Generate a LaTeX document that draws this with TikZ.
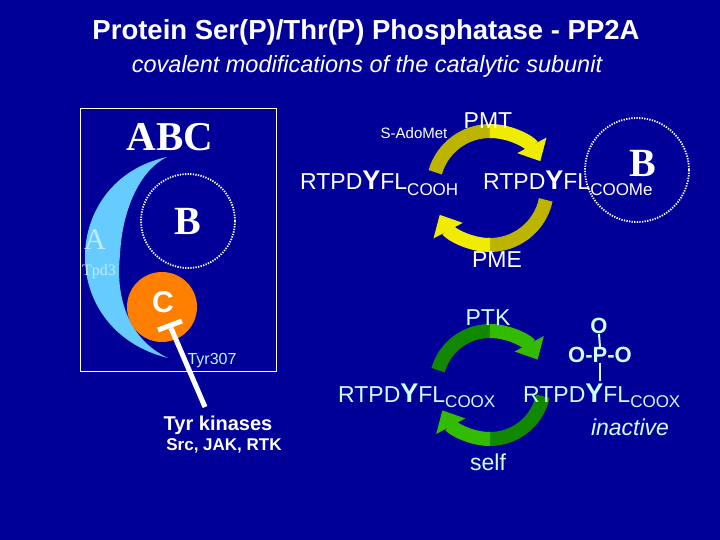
\documentclass[tikz,border=0pt]{standalone}
\usepackage{fontspec}
\setmainfont{Liberation Sans}
\newfontfamily\serifb{Liberation Serif}
\usetikzlibrary{arrows.meta}
\definecolor{bg}{HTML}{000099}
\definecolor{lblue}{HTML}{66CCFF}
\definecolor{orng}{HTML}{FF8000}
\definecolor{ylw}{HTML}{F0EC00}
\definecolor{ylwd}{HTML}{BDB400}
\definecolor{grn}{HTML}{33BB00}
\definecolor{grnd}{HTML}{118800}
\definecolor{cyanl}{HTML}{CCFFFF}
\tikzset{
  txt/.style={text=white,inner sep=0pt},
  ctxt/.style={text=cyanl,inner sep=0pt},
  dotc/.style={draw=white,line width=1.8pt,dash pattern=on 1.3pt off 1.3pt},
  cyc/.style={line width=14pt},
  cyca/.style={line width=14pt,-{Triangle[width=32pt,length=18pt]}},
  big/.style={font=\fontsize{23}{26}\selectfont},
}
\newcommand{\pep}[1]{RTPD{\bfseries\fontsize{27}{28}\selectfont Y}FL\raisebox{-0.45ex}{\fontsize{17}{19}\selectfont #1}}
\begin{document}
\begin{tikzpicture}[x=1pt,y=-1pt]
\fill[bg] (0,0) rectangle (720,540);
\useasboundingbox (0,0) rectangle (720,540);
\node[txt,font=\bfseries\fontsize{27.5}{30}\selectfont] (title) at (366,32) {Protein Ser(P)/Thr(P) Phosphatase - PP2A};
\node[txt,font=\itshape\fontsize{23.5}{26}\selectfont] (sub) at (367,66) {covalent modifications of the catalytic subunit};
% left panel
\draw[white,line width=0.8pt] (80,108) rectangle (276,371);
\node[txt,font=\serifb\bfseries\fontsize{41}{44}\selectfont] (abc) at (170,137) {ABC};
\fill[lblue] (167,157) .. controls (60,180) and (55,330) .. (168,358)
  .. controls (130,340) and (115,300) .. (120,255)
  .. controls (122,210) and (140,170) .. (167,157) -- cycle;
\node[text=lblue!40!white,inner sep=0pt,font=\serifb\fontsize{30}{32}\selectfont] (a) at (95,240) {A};
\node[text=lblue!40!white,inner sep=0pt,font=\serifb\fontsize{16}{18}\selectfont] (tpd) at (99,272) {Tpd3};
\draw[dotc] (188,221) circle (47);
\node[txt,font=\serifb\bfseries\fontsize{40}{42}\selectfont] (b1) at (188,221) {B};
\fill[orng] (162,307) circle (35);
\node[txt,font=\bfseries\fontsize{30}{32}\selectfont] (c) at (163,302) {C};
\coordinate (t1) at (171,328);
\coordinate (t2) at (205,407);
\draw[white,line width=5pt] (t1) -- (t2);
\draw[white,line width=5pt] (158,330) -- (182,321);
\node[text=cyanl!80!lblue,inner sep=0pt,font=\fontsize{16}{18}\selectfont] (tyr) at (212,361) {Tyr307};
\node[txt,font=\bfseries\fontsize{20}{22}\selectfont] (tk) at (218,425) {Tyr kinases};
\node[txt,font=\bfseries\fontsize{17}{19}\selectfont] (src) at (224,446) {Src, JAK, RTK};
% yellow cycle
\coordinate (yc) at (490,188);
\draw[cyc,ylwd] (yc) ++(-164:57) arc[start angle=-164,end angle=-88,radius=57];
\draw[cyca,ylw] (yc) ++(-90:57) arc[start angle=-90,end angle=-28,radius=57];
\draw[cyc,ylwd] (yc) ++(12:57) arc[start angle=12,end angle=92,radius=57];
\draw[cyca,ylw] (yc) ++(90:57) arc[start angle=90,end angle=152,radius=57];
\node[txt,font=\fontsize{15}{17}\selectfont] (ado) at (414,133) {S-AdoMet};
\node[txt,big] (pmt) at (488,121) {PMT};
\node[txt,big,anchor=base west] (p1) at (300,190) {\pep{COOH}};
\node[txt,big,anchor=base west] (p2) at (483,190) {\pep{COOMe}};
\draw[dotc] (637,170) circle (52);
\node[txt,font=\serifb\bfseries\fontsize{40}{42}\selectfont] (b2) at (643,163) {B};
\node[txt,big] (pme) at (497,260) {PME};
% green cycle
\coordinate (gc) at (490,385);
\draw[cyc,grnd] (gc) ++(-164:54) arc[start angle=-164,end angle=-88,radius=54];
\draw[cyca,grn] (gc) ++(-90:54) arc[start angle=-90,end angle=-28,radius=54];
\draw[cyc,grnd] (gc) ++(12:54) arc[start angle=12,end angle=92,radius=54];
\draw[cyca,grn] (gc) ++(90:54) arc[start angle=90,end angle=152,radius=54];
\node[ctxt,big] (ptk) at (488,318) {PTK};
\node[ctxt,big,anchor=base west] (p3) at (338,402) {\pep{COOX}};
\node[ctxt,big,anchor=base west] (p4) at (523,402) {\pep{COOX}};
\node[ctxt,font=\bfseries\fontsize{22}{24}\selectfont] (o1) at (599,326) {O};
\node[ctxt,font=\bfseries\fontsize{22}{24}\selectfont] (opo) at (600,355) {O-P-O};
\draw[cyanl,line width=2pt] (o1.south) -- (opo.north);
\coordinate (yb) at (600,381);
\draw[cyanl,line width=2pt] (opo.south) -- (yb);
\node[ctxt,font=\itshape\fontsize{23}{26}\selectfont] (inact) at (630,427) {inactive};
\node[ctxt,big] (self) at (488,462) {self};
\end{tikzpicture}
\end{document}
